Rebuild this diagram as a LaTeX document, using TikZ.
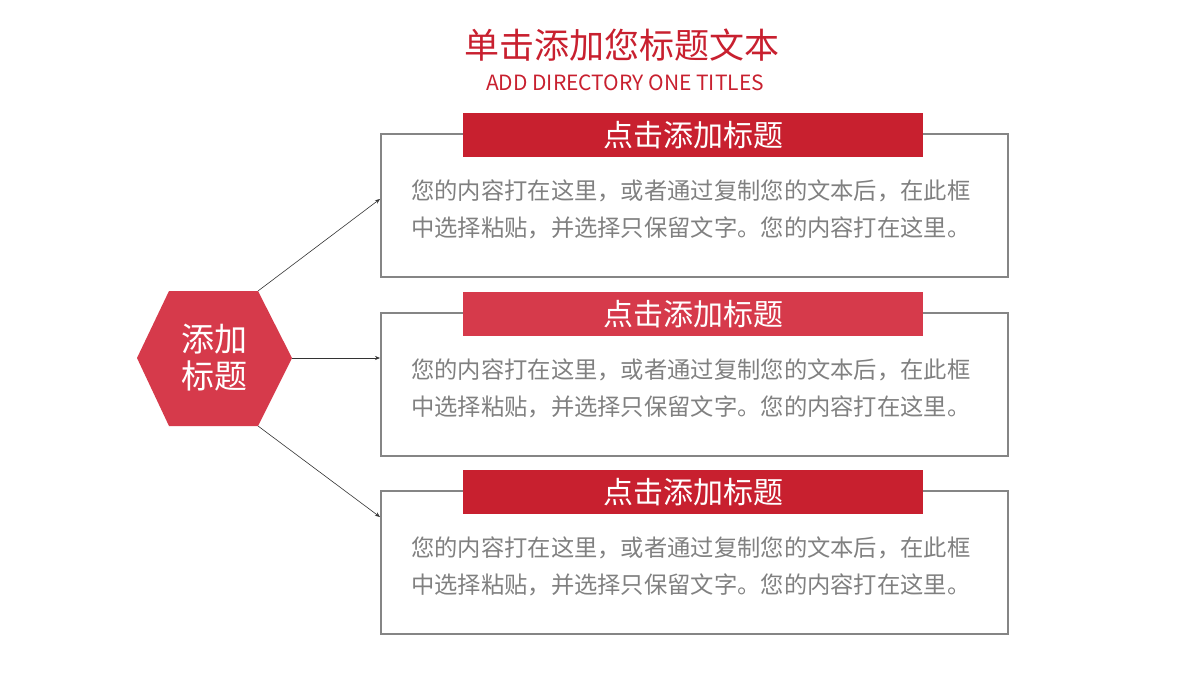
\documentclass[tikz,border=0pt]{standalone}
\usepackage{fontspec}
\setmainfont{Noto Sans CJK SC}
\usepackage{xcolor}
\usetikzlibrary{arrows.meta,positioning}
\definecolor{darkred}{HTML}{C8202F}
\definecolor{lightred}{HTML}{D63A4B}
\definecolor{boxgray}{HTML}{858585}
\definecolor{txtgray}{HTML}{808080}
\tikzset{
	box/.style={draw=boxgray, line width=2pt, minimum width=627pt, minimum height=143pt,
	            inner sep=0pt, anchor=north west},
	head/.style={fill=#1, text=white, minimum width=460pt, minimum height=44pt,
	             inner sep=0pt, font=\fontsize{30}{30}\selectfont},
	body/.style={text=txtgray, align=left, inner sep=0pt, anchor=west,
	             font=\fontsize{23.3}{37}\selectfont}
}
\begin{document}
\begin{tikzpicture}[x=1pt, y=-1pt,
every edge/.style = {draw, -{Stealth[length=5pt,width=4pt]}, semithick, black!80}
                    ]
\useasboundingbox (0,0) rectangle (1200,680);

% title
\node (title) at (622,45) [text=darkred, font=\fontsize{35}{35}\selectfont] {单击添加您标题文本};
\node (sub) at (625,83) [text=darkred, font=\fontsize{21}{21}\selectfont] {ADD DIRECTORY ONE TITLES};

% boxes
\foreach \i/\y/\c in {1/133/darkred, 2/312/lightred, 3/490/darkred}
{
\node (box\i) [box] at (380,\y) {};
\node (head\i) [head=\c] at (693,\y+2) {点击添加标题};
\node (text\i) [body] at (411,\y+76) {您的内容打在这里，或者通过复制您的文本后，在此框\\
                                       中选择粘贴，并选择只保留文字。您的内容打在这里。};
}

% hexagon
\coordinate (hex-w)  at (137,358);
\coordinate (hex-nw) at (169,291);
\coordinate (hex-ne) at (258,291);
\coordinate (hex-e)  at (292,358);
\coordinate (hex-se) at (258,426);
\coordinate (hex-sw) at (169,426);
\fill[lightred] (hex-w) -- (hex-nw) -- (hex-ne) -- (hex-e) -- (hex-se) -- (hex-sw) -- cycle;
\node (hex) at (214,358) [text=white, align=center, font=\fontsize{33}{37}\selectfont] {添加\\标题};

\coordinate (tip1) at (380,199);
\coordinate (tip2) at (380,358);
\coordinate (tip3) at (380,517);
\draw   (hex-ne) edge (tip1)
        (hex-e)  edge (tip2)
        (hex-se) edge (tip3);
\end{tikzpicture}
\end{document}
